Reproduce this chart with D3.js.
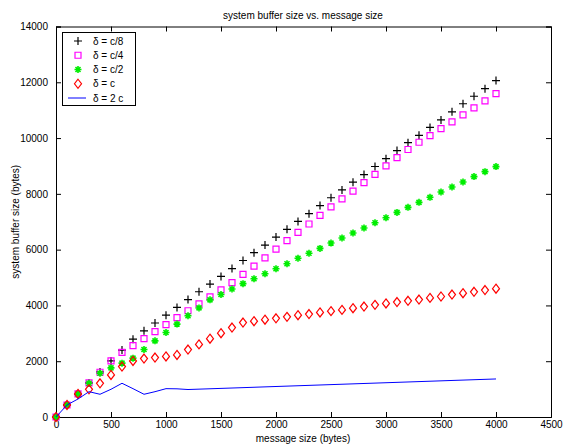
<!DOCTYPE html>
<html>
<head>
<meta charset="utf-8">
<script src="https://cdn.jsdelivr.net/npm/d3@7"></script>
<style>
  body { margin: 0; background: #fff; }
  text { font-family: "Liberation Sans", Arial, Helvetica, sans-serif; }
</style>
</head>
<body>
<div id="chart"></div>
<script>
// message sizes (bytes)
const msgSizes = [0, 100, 200, 300, 400, 500, 600, 700, 800, 900, 1000, 1100, 1200, 1300, 1400,
  1500, 1600, 1700, 1800, 1900, 2000, 2100, 2200, 2300, 2400, 2500, 2600, 2700, 2800, 2900,
  3000, 3100, 3200, 3300, 3400, 3500, 3600, 3700, 3800, 3900, 4000]

// system buffer size per delta
const bufC8 = [0, 430, 815, 1220, 1616, 2010, 2400, 2790, 3090, 3370, 3650, 3930, 4210, 4490, 4765,
  5040, 5320, 5610, 5890, 6165, 6450, 6730, 7010, 7290, 7580, 7860, 8140, 8420, 8690, 8980,
  9260, 9550, 9835, 10100, 10380, 10650, 10940, 11230, 11500, 11770, 12060]
const bufC4 = [0, 430, 826, 1220, 1605, 2010, 2320, 2560, 2810, 3064, 3315, 3560, 3810, 4057, 4309,
  4560, 4815, 5110, 5410, 5705, 6020, 6320, 6618, 6920, 7225, 7530, 7820, 8100, 8400, 8700,
  9000, 9300, 9590, 9850, 10090, 10340, 10580, 10830, 11080, 11330, 11590]
const bufC2 = [0, 430, 826, 1210, 1570, 1760, 1930, 2110, 2420, 2730, 3030, 3330, 3630, 3910, 4200,
  4390, 4590, 4780, 4955, 5135, 5314, 5494, 5690, 5870, 6044, 6236, 6416, 6595, 6775, 6966,
  7145, 7336, 7516, 7696, 7876, 8068, 8247, 8427, 8618, 8797, 8977]
const bufC = [0, 431, 826, 994, 1209, 1508, 1807, 2010, 2094, 2130, 2170, 2225, 2418, 2603, 2806,
  3005, 3207, 3387, 3435, 3490, 3537, 3590, 3650, 3690, 3750, 3795, 3840, 3900, 3960, 4020,
  4070, 4120, 4165, 4210, 4270, 4320, 4390, 4440, 4490, 4550, 4600]
// delta = 2c is a plain line; it runs straight from 1200 to 4000
const line2cX = [0, 100, 200, 300, 400, 500, 600, 700, 800, 900, 1000, 1100, 1200, 4000]
const line2cY = [0, 431, 646, 908, 815, 994, 1209, 1016, 815, 908, 1016, 1010, 985, 1364]

const xTicks = [0, 500, 1000, 1500, 2000, 2500, 3000, 3500, 4000, 4500]
const yTicks = [0, 2000, 4000, 6000, 8000, 10000, 12000, 14000]
const legendLabels = ['δ = c/8', 'δ = c/4', 'δ = c/2', 'δ = c', 'δ = 2 c']

const W = 563, H = 444
const m = { left: 56, top: 26.5, right: 551, bottom: 417 }

const svg = d3.select('#chart').append('svg').attr('width', W).attr('height', H)

const x = d3.scaleLinear().domain([0, 4500]).range([m.left, m.right])
const y = d3.scaleLinear().domain([0, 14000]).range([m.bottom, m.top])

// title + labels
svg.append('text').attr('x', 303).attr('y', 19).attr('text-anchor', 'middle')
  .attr('font-size', 10).text('system buffer size vs. message size')
svg.append('text').attr('x', 303).attr('y', 442).attr('text-anchor', 'middle')
  .attr('font-size', 10).text('message size (bytes)')
svg.append('text').attr('transform', `translate(19,${(m.top + m.bottom) / 2}) rotate(-90)`)
  .attr('text-anchor', 'middle').attr('font-size', 10).text('system buffer size (bytes)')

// axes, ticks pointing inwards on all four sides
const tk = 5
const fmt = d3.format('d')
svg.append('g').attr('transform', `translate(0,${m.bottom})`)
  .call(d3.axisBottom(x).tickValues(xTicks).tickSize(-tk).tickPadding(4).tickFormat(fmt))
svg.append('g').attr('transform', `translate(0,${m.top})`)
  .call(d3.axisTop(x).tickValues(xTicks).tickSize(-tk).tickFormat(''))
svg.append('g').attr('transform', `translate(${m.left},0)`)
  .call(d3.axisLeft(y).tickValues(yTicks).tickSize(-tk).tickPadding(tk + 3).tickFormat(fmt))
svg.append('g').attr('transform', `translate(${m.right},0)`)
  .call(d3.axisRight(y).tickValues(yTicks).tickSize(-tk).tickFormat(''))
svg.selectAll('.domain').attr('stroke', '#000')
svg.selectAll('.tick line').attr('stroke', '#000')
svg.selectAll('.tick text').attr('font-size', 10).attr('fill', '#000')
  .attr('font-family', '"Liberation Sans", Arial, sans-serif')

// marker paths centred at 0,0
const markers = {
  plus: 'M-4,0H4M0,-4V4',
  square: 'M-3,-3H3V3H-3Z',
  star: 'M-3.5,0H3.5M0,-3.5V3.5M-2.5,-2.5L2.5,2.5M-2.5,2.5L2.5,-2.5',
  diamond: 'M0,-4.5L3.5,0L0,4.5L-3.5,0Z'
}

const series = [
  { vals: bufC8, mark: 'plus', color: '#000' },
  { vals: bufC4, mark: 'square', color: '#ff00ff' },
  { vals: bufC2, mark: 'star', color: '#00ee00' },
  { vals: bufC, mark: 'diamond', color: '#ff0000' }
]

const plot = svg.append('g')
series.forEach(s => {
  plot.append('g').selectAll('path').data(s.vals).join('path')
    .attr('transform', (d, i) => `translate(${x(msgSizes[i])},${y(d)})`)
    .attr('d', markers[s.mark])
    .attr('fill', 'none').attr('stroke', s.color).attr('stroke-width', s.mark === 'star' ? 1.6 : 1.2)
})

plot.append('path').datum(line2cX.map((v, i) => [v, line2cY[i]]))
  .attr('d', d3.line().x(d => x(d[0])).y(d => y(d[1])))
  .attr('fill', 'none').attr('stroke', '#0000ff').attr('stroke-width', 1)

// legend
const lg = svg.append('g')
lg.append('rect').attr('x', 62.5).attr('y', 32.5).attr('width', 73).attr('height', 73)
  .attr('fill', '#fff').attr('stroke', '#000').attr('stroke-width', 1)
const legendY = d3.scalePoint().domain(legendLabels).range([41, 98])
legendLabels.forEach((lab, i) => {
  const cy = legendY(lab)
  if (i < 4) {
    lg.append('path').attr('transform', `translate(78,${cy})`).attr('d', markers[series[i].mark])
      .attr('fill', 'none').attr('stroke', series[i].color).attr('stroke-width', i === 2 ? 1.6 : 1.2)
  } else {
    lg.append('line').attr('x1', 68).attr('x2', 86).attr('y1', cy).attr('y2', cy)
      .attr('stroke', '#0000ff').attr('stroke-width', 1)
  }
  lg.append('text').attr('x', 93).attr('y', cy + 3.5).attr('font-size', 10).text(lab)
})
</script>
</body>
</html>
